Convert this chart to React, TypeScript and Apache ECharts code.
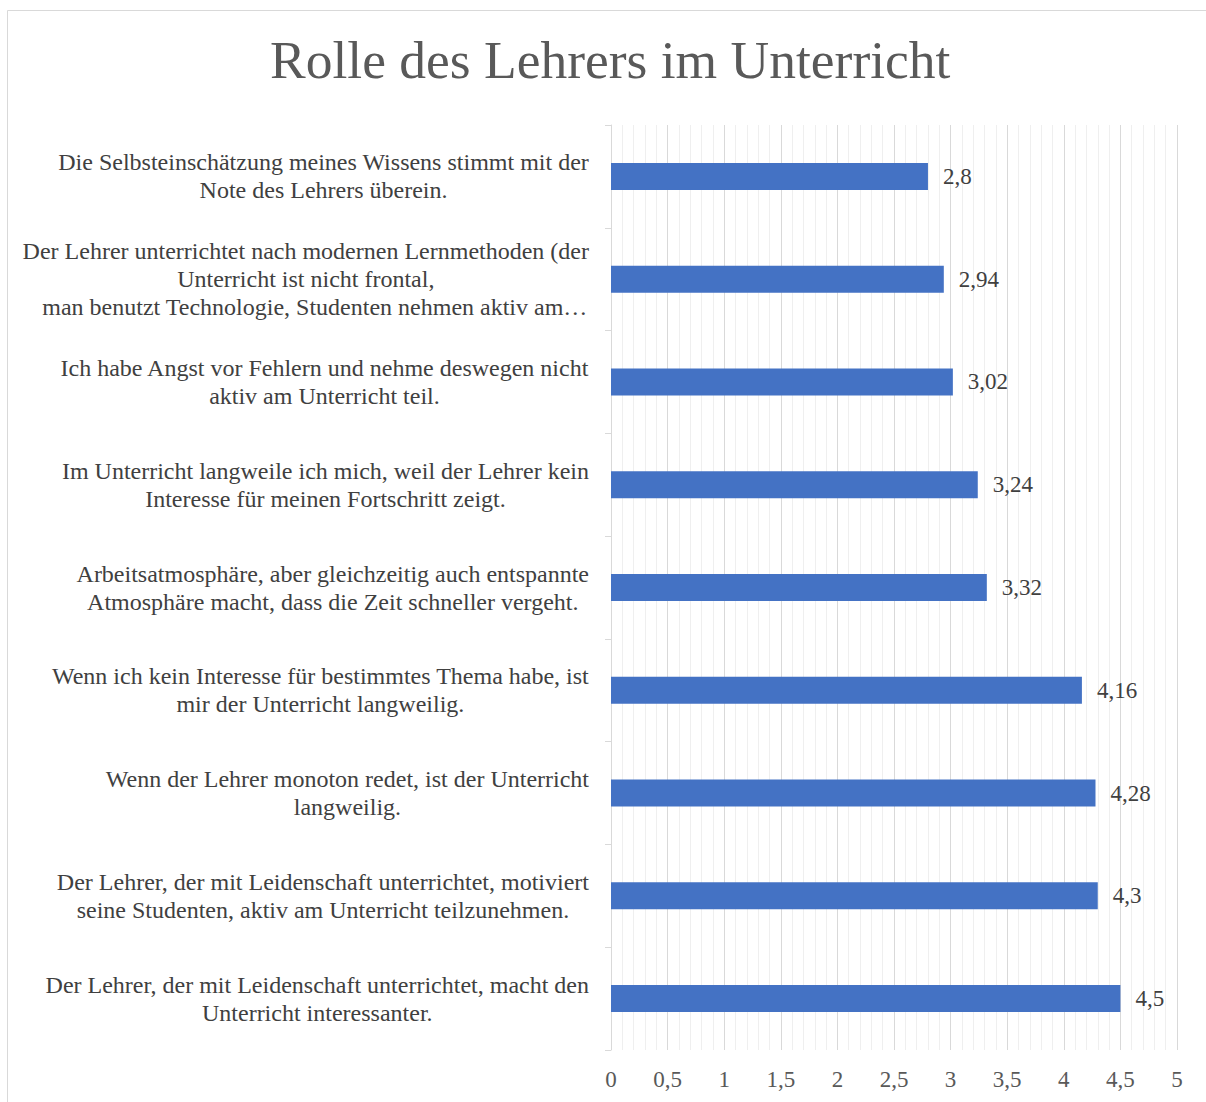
import React, { useEffect, useRef } from "react";
import * as echarts from "echarts";

const title = "Rolle des Lehrers im Unterricht";
const categories = [
  "Die Selbsteinschätzung meines Wissens stimmt mit der\nNote des Lehrers überein.",
  "Der Lehrer unterrichtet nach modernen Lernmethoden (der\nUnterricht ist nicht frontal,\n   man benutzt Technologie, Studenten nehmen aktiv am…",
  "Ich habe Angst vor Fehlern und nehme deswegen nicht\naktiv am Unterricht teil.",
  "Im Unterricht langweile ich mich, weil der Lehrer kein\nInteresse für meinen Fortschritt zeigt.",
  "Arbeitsatmosphäre, aber gleichzeitig auch entspannte\nAtmosphäre macht, dass die Zeit schneller vergeht.",
  "Wenn ich kein Interesse für bestimmtes Thema habe, ist\nmir der Unterricht langweilig.",
  "Wenn der Lehrer monoton redet, ist der Unterricht\nlangweilig.",
  "Der Lehrer, der mit Leidenschaft unterrichtet, motiviert\nseine Studenten, aktiv am Unterricht teilzunehmen.",
  "Der Lehrer, der mit Leidenschaft unterrichtet, macht den\nUnterricht interessanter.",
];
const values = [2.8, 2.94, 3.02, 3.24, 3.32, 4.16, 4.28, 4.3, 4.5];
const axisMin = 0;
const axisMax = 5;
const axisStep = 0.5;

const FONT = '"Liberation Serif", "Times New Roman", serif';
const fmt = (v: number) => String(v).replace(".", ",");

export default function App() {
  const ref = useRef<HTMLDivElement>(null);
  useEffect(() => {
    if (!ref.current) return;
    const chart = echarts.init(ref.current, undefined, { renderer: "svg" });
    chart.setOption({
      animation: false,
      backgroundColor: "#ffffff",
      textStyle: { fontFamily: FONT },
      title: {
        text: title,
        left: 265,
        top: 28,
        textStyle: { fontFamily: FONT, fontSize: 53.5, fontWeight: "normal", color: "#595959" },
      },
      graphic: [
        {
          type: "rect",
          shape: { x: 7.5, y: 10.5, width: 1210, height: 1110 },
          style: { fill: "none", stroke: "#d9d9d9", lineWidth: 1 },
          silent: true,
        },
      ],
      grid: { left: 611, right: 29, top: 125, bottom: 52, containLabel: false },
      xAxis: {
        type: "value",
        min: axisMin,
        max: axisMax,
        interval: axisStep,
        axisLine: { show: false },
        axisTick: { show: false },
        axisLabel: {
          formatter: (v: number) => fmt(v),
          color: "#595959",
          fontSize: 23,
          fontFamily: FONT,
          margin: 18,
        },
        splitLine: { show: true, lineStyle: { color: "#d9d9d9", width: 1 } },
        minorTick: { show: false, splitNumber: 5 },
        minorSplitLine: { show: true, lineStyle: { color: "#efefef", width: 1 } },
      },
      yAxis: {
        type: "category",
        inverse: true,
        data: categories,
        axisLine: { show: true, lineStyle: { color: "#d9d9d9", width: 1 } },
        axisTick: { show: true, length: 6, lineStyle: { color: "#d9d9d9" } },
        splitLine: { show: false },
        axisLabel: {
          align: "right",
          margin: 22,
          color: "#404040",
          fontSize: 24,
          lineHeight: 28,
          fontFamily: FONT,
          formatter: (v: string) =>
            v
              .split("\n")
              .map((l) => `{c|${l}}`)
              .join("\n"),
          rich: {
            c: {
              align: "center",
              color: "#404040",
              fontSize: 24,
              lineHeight: 28,
              fontFamily: FONT,
            },
          },
        },
      },
      series: [
        {
          type: "bar",
          data: values,
          barWidth: 27,
          itemStyle: { color: "#4472C4" },
          label: {
            show: true,
            position: "right",
            distance: 15,
            formatter: (p: any) => fmt(p.value),
            color: "#404040",
            fontSize: 23,
            fontFamily: FONT,
          },
        },
      ],
    });
    return () => chart.dispose();
  }, []);
  return (
    <div
      ref={ref}
      style={{ position: "fixed", left: 0, top: 0, width: 1206, height: 1102 }}
    />
  );
}
